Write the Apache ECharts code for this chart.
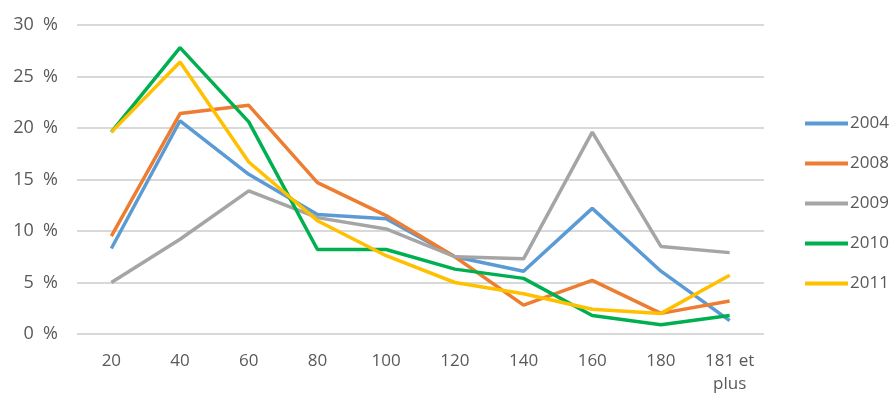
<!DOCTYPE html>
<html><head><meta charset="utf-8">
<script src="https://cdn.jsdelivr.net/npm/echarts@6/dist/echarts.min.js"></script>
<style>html,body{margin:0;padding:0;background:#fff}#c{width:893px;height:396px}</style>
</head><body><div id="c"></div>
<script>
const categories = ['20','40','60','80','100','120','140','160','180','181 et\nplus'];
const yTicks = [0, 5, 10, 15, 20, 25, 30];
const years = ['2004','2008','2009','2010','2011'];
const s2004 = [8.3, 20.7, 15.5, 11.6, 11.2, 7.5, 6.1, 12.2, 6.1, 1.3];
const s2008 = [9.5, 21.4, 22.2, 14.7, 11.5, 7.5, 2.8, 5.2, 2.0, 3.2];
const s2009 = [5.0, 9.2, 13.9, 11.3, 10.2, 7.5, 7.3, 19.6, 8.5, 7.9];
const s2010 = [19.6, 27.8, 20.6, 8.2, 8.2, 6.3, 5.4, 1.8, 0.9, 1.8];
const s2011 = [19.6, 26.4, 16.7, 11.0, 7.6, 5.0, 3.9, 2.4, 2.0, 5.7];
const colors = ['#5B9BD5','#ED7D31','#A5A5A5','#00B050','#FFC000'];
const seriesData = [s2004, s2008, s2009, s2010, s2011];

const chart = echarts.init(document.getElementById('c'));
chart.setOption({
  animation: false,
  color: colors,
  textStyle: { fontFamily: 'Open Sans, Liberation Sans, sans-serif' },
  grid: { left: 77, right: 129, top: 25, bottom: 59 },
  legend: {
    orient: 'vertical', left: 803, top: 115, padding: 0,
    itemWidth: 43, itemHeight: 14, itemGap: 23,
    itemStyle: { opacity: 0 },
    lineStyle: { width: 4 },
    textStyle: { color: '#595959', fontSize: 17, padding: [0,0,0,-3] },
    data: years
  },
  xAxis: {
    type: 'category', data: categories, boundaryGap: true,
    axisLine: { show: false }, axisTick: { show: false },
    axisLabel: { color: '#595959', fontSize: 17, margin: 16, lineHeight: 23 }
  },
  yAxis: {
    type: 'value', min: yTicks[0], max: yTicks[yTicks.length-1], interval: 5,
    axisLabel: { color: '#595959', fontSize: 18, margin: 19, formatter: v => v + '  %' },
    splitLine: { lineStyle: { color: '#D9D9D9', width: 2 } },
    axisLine: { show: false }, axisTick: { show: false }
  },
  series: years.map((y, i) => ({
    name: y, type: 'line', data: seriesData[i], symbol: 'none',
    lineStyle: { width: 3.5, color: colors[i] }, itemStyle: { color: colors[i] }
  }))
});
</script></body></html>
